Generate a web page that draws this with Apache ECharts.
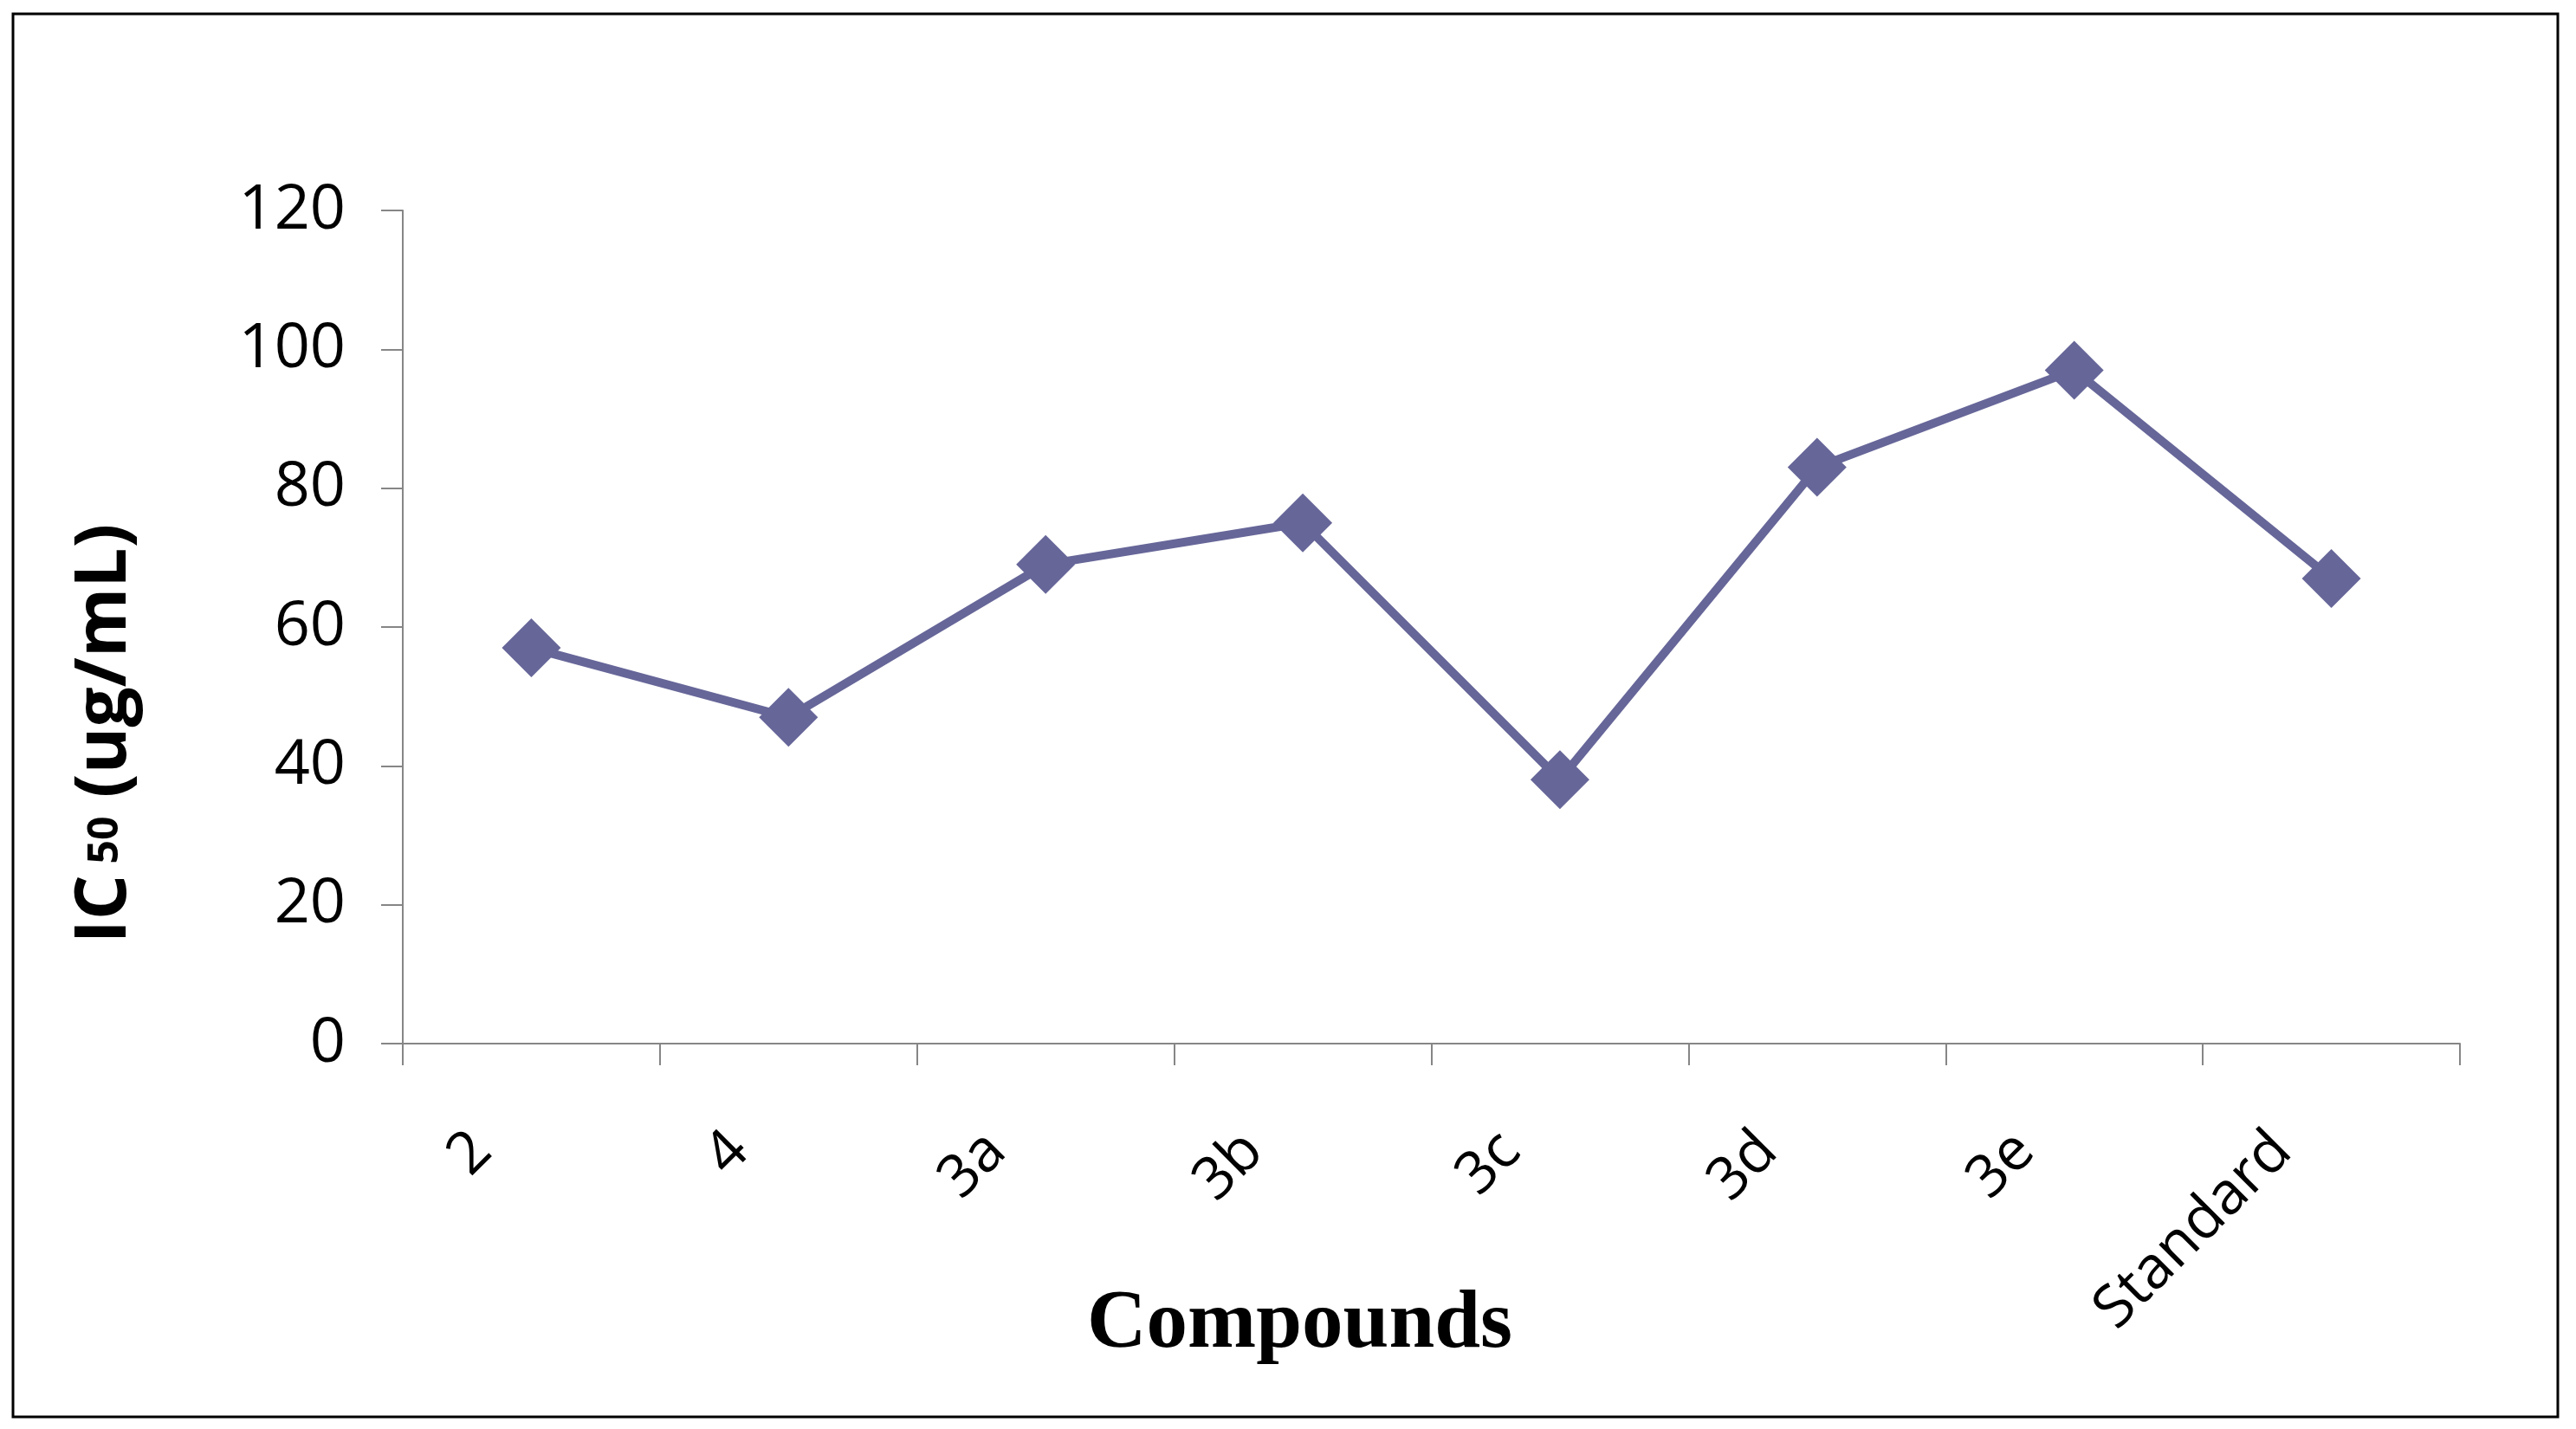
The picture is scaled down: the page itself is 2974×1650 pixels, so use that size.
<!DOCTYPE html>
<html>
<head>
<meta charset="utf-8">
<title>IC50 compounds</title>
<script src="https://cdn.jsdelivr.net/npm/echarts@6/dist/echarts.min.js"></script>
<style>
  html, body { margin: 0; padding: 0; background: #fff; }
  #chart { width: 2974px; height: 1650px; }
</style>
</head>
<body>
<div id="chart"></div>
<script>
// 化合物名称
const compounds = ['2', '4', '3a', '3b', '3c', '3d', '3e', 'Standard'];
// IC50 数值 (ug/mL)
const ic50Values = [57, 47, 69, 75, 38, 83, 97, 67];
// y轴刻度
const yMin = 0;
const yMax = 120;
const yStep = 20;

const lineColor = '#666699';
const axisColor = '#868686';

let chart = echarts.init(document.getElementById('chart'), null, { renderer: 'canvas' });

let option = {
  backgroundColor: '#ffffff',
  animation: false,
  grid: {
    left: 465,
    right: 134,
    top: 243,
    bottom: 445,
    // 不让标签挤压绘图区
    outerBoundsMode: 'none'
  },
  // 外边框
  graphic: [
    {
      type: 'rect',
      shape: { x: 15, y: 16, width: 2938, height: 1620 },
      style: { fill: 'none', stroke: '#000', lineWidth: 3 },
      silent: true
    }
  ],
  xAxis: {
    type: 'category',
    data: compounds,
    boundaryGap: true,
    name: 'Compounds',
    nameLocation: 'middle',
    nameGap: 278,
    nameMoveOverlap: false,
    nameTextStyle: {
      fontFamily: 'Liberation Serif',
      fontWeight: 'bold',
      fontSize: 95,
      color: '#000',
      padding: [0, 304, 0, 0]
    },
    axisLine: { show: true, lineStyle: { color: axisColor, width: 2 } },
    axisTick: { show: true, length: 25, alignWithLabel: false, lineStyle: { color: axisColor, width: 2 } },
    axisLabel: {
      rotate: 45,
      margin: 57,
      interval: 0,
      fontFamily: 'Open Sans',
      fontSize: 68,
      color: '#000',
      padding: [0, 80, 0, 0]
    },
    splitLine: { show: false }
  },
  yAxis: {
    type: 'value',
    min: yMin,
    max: yMax,
    interval: yStep,
    name: '{b|IC}{s| 50}{b| (ug/mL)}',
    nameLocation: 'middle',
    nameGap: 302,
    nameMoveOverlap: false,
    nameTextStyle: {
      color: '#000',
      padding: [0, 246, 0, 0],
      rich: {
        b: { fontFamily: 'Open Sans', fontWeight: 'bold', fontSize: 82, color: '#000' },
        s: { fontFamily: 'Open Sans', fontWeight: 'bold', fontSize: 48, color: '#000' }
      }
    },
    axisLine: { show: true, lineStyle: { color: axisColor, width: 2 } },
    axisTick: { show: true, length: 25, lineStyle: { color: axisColor, width: 2 } },
    axisLabel: {
      margin: 66,
      fontFamily: 'Open Sans',
      fontSize: 72,
      color: '#000'
    },
    splitLine: { show: false }
  },
  series: [
    {
      name: 'IC50',
      type: 'line',
      data: ic50Values,
      symbol: 'diamond',
      symbolSize: 68,
      lineStyle: { color: lineColor, width: 10 },
      itemStyle: { color: lineColor }
    }
  ]
};

chart.setOption(option);
</script>
</body>
</html>
